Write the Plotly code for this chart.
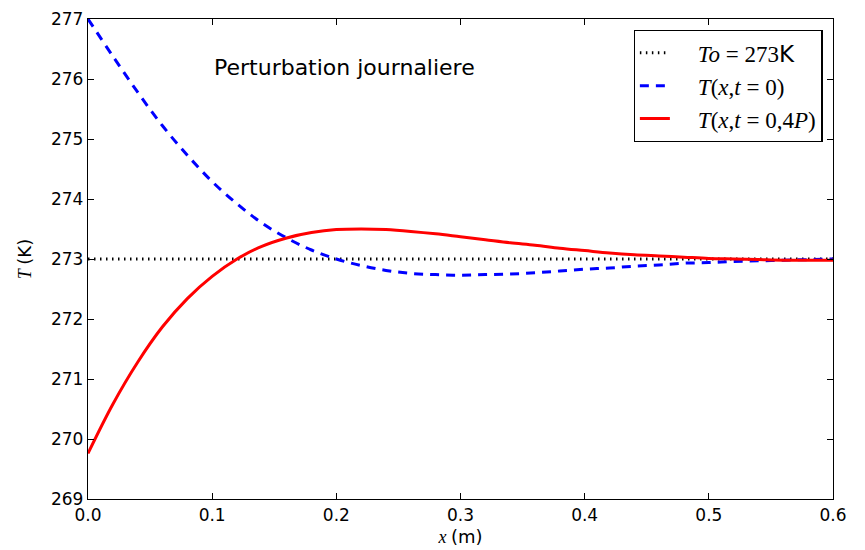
import plotly.graph_objects as go

x_m = [0.00, 0.02, 0.04, 0.06, 0.08, 0.10, 0.12, 0.14, 0.16, 0.18, 0.20,
       0.22, 0.24, 0.26, 0.28, 0.30, 0.32, 0.34, 0.36, 0.38, 0.40,
       0.42, 0.44, 0.46, 0.48, 0.50, 0.52, 0.54, 0.56, 0.58, 0.60]
T_t0 = [277.00, 276.38, 275.78, 275.22, 274.73, 274.29, 273.92, 273.60, 273.35, 273.15, 273.00,
        272.89, 272.81, 272.76, 272.74, 272.73, 272.74, 272.75, 272.77, 272.80, 272.83,
        272.85, 272.88, 272.90, 272.93, 272.94, 272.96, 272.97, 272.98, 272.99, 273.00]
T_t04 = [269.76, 270.58, 271.28, 271.87, 272.34, 272.71, 273.00, 273.21, 273.35, 273.44, 273.49,
         273.50, 273.49, 273.46, 273.42, 273.37, 273.32, 273.27, 273.23, 273.18, 273.14,
         273.10, 273.07, 273.05, 273.03, 273.01, 273.00, 272.99, 272.98, 272.98, 272.98]
To_x = [0.0, 0.6]
To_y = [273.0, 273.0]

x_ticks = [0.0, 0.1, 0.2, 0.3, 0.4, 0.5, 0.6]
y_ticks = [269, 270, 271, 272, 273, 274, 275, 276, 277]

SANS = "DejaVu Sans"
SERIF = "Liberation Serif"
PAD = "&nbsp;&nbsp;&nbsp;&nbsp;"

def sans(t):
    return "<span style='font-family:%s; font-style:normal'>%s</span>" % (SANS, t)

fig = go.Figure()
fig.add_trace(go.Scatter(x=To_x, y=To_y, mode="lines",
                         line=dict(color="black", width=3, dash="1.5px,4.5px"),
                         name=PAD + "<i>To</i> = 273" + sans("K")))
fig.add_trace(go.Scatter(x=x_m, y=T_t0, mode="lines", line_shape="spline",
                         line=dict(color="blue", width=3, dash="9px,7px"),
                         name=PAD + "<i>T</i>(<i>x</i>,<i>t</i> = 0)"))
fig.add_trace(go.Scatter(x=x_m, y=T_t04, mode="lines", line_shape="spline",
                         line=dict(color="red", width=3),
                         name=PAD + "<i>T</i>(<i>x</i>,<i>t</i> = 0,4<i>P</i>)"))

axis_common = dict(showline=True, linecolor="black", linewidth=1.3, mirror="ticks",
                   ticks="inside", ticklen=6, tickcolor="black", showgrid=False,
                   zeroline=False, automargin=False,
                   tickfont=dict(family=SANS, size=17, color="black"))

fig.update_xaxes(range=[0, 0.6], tickvals=x_ticks, ticktext=["%.1f" % v for v in x_ticks],
                 title=dict(text="<i>x</i> " + sans("(m)"),
                            font=dict(family=SERIF, size=18, color="black"),
                            standoff=6),
                 **axis_common)
fig.update_yaxes(range=[269, 277], tickvals=y_ticks,
                 title=dict(text="<i>T</i> " + sans("(K)"),
                            font=dict(family=SERIF, size=18, color="black"),
                            standoff=14),
                 **axis_common)

fig.add_annotation(x=0.1, y=275.95, xref="x", yref="y", text="Perturbation journaliere",
                   showarrow=False, xanchor="left", yanchor="bottom",
                   font=dict(family=SANS, size=22, color="black"))

fig.update_layout(
    width=865, height=550,
    margin=dict(l=80, r=40, t=11, b=59),
    plot_bgcolor="white", paper_bgcolor="white",
    legend=dict(x=0.986, y=0.977, xanchor="right", yanchor="top",
                bordercolor="black", borderwidth=1.3, bgcolor="white",
                font=dict(family=SERIF, size=23, color="black"),
                itemwidth=30),
    showlegend=True,
)

fig.write_html("out.html")
